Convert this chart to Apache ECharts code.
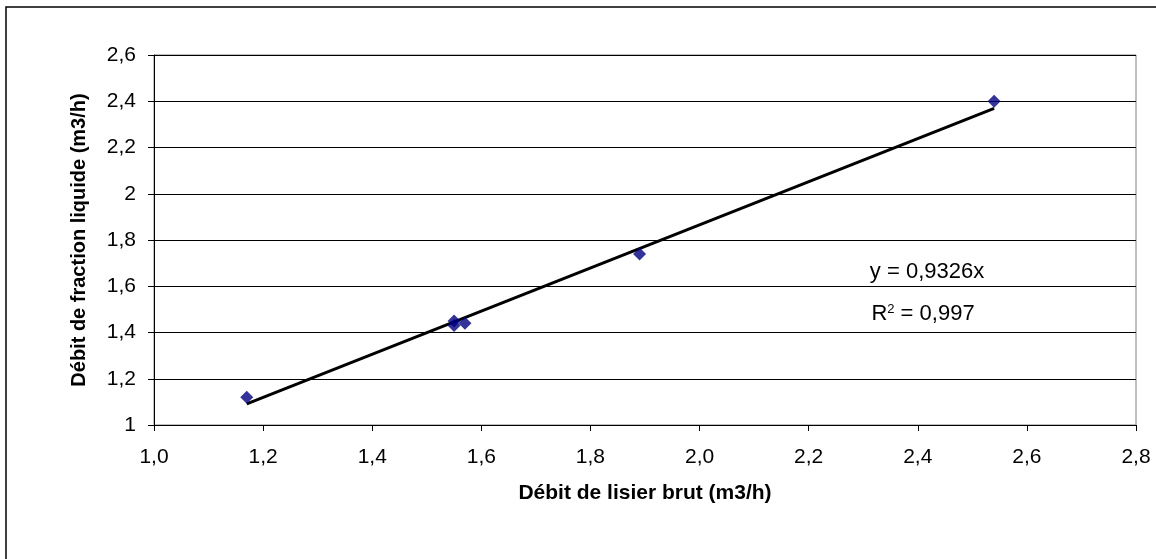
<!DOCTYPE html>
<html>
<head>
<meta charset="utf-8">
<script src="https://cdn.jsdelivr.net/npm/echarts@6/dist/echarts.min.js"></script>
<style>
  html, body { margin: 0; padding: 0; background: #fff; }
  #main { width: 1156px; height: 559px; }
</style>
</head>
<body>
<div id="main"></div>
<script>
// mesures : débit lisier brut (x) / débit fraction liquide (y)
var debitBrut = [1.17, 1.55, 1.55, 1.57, 1.89, 2.54];
var debitLiquide = [1.12, 1.45, 1.43, 1.44, 1.74, 2.40];
var pente = 0.9326;
var r2 = '0,997';

var points = debitBrut.map(function (x, i) { return [x, debitLiquide[i]]; });
var xMin = Math.min.apply(null, debitBrut);
var xMax = Math.max.apply(null, debitBrut);
var tendance = [[xMin, pente * xMin], [xMax, pente * xMax]];

var police = 'Liberation Sans, Arial, sans-serif';

function virgule(v, d) {
  return (d == null ? String(v) : v.toFixed(d)).replace('.', ',');
}

var chart = echarts.init(document.getElementById('main'));
chart.setOption({
  backgroundColor: '#fff',
  animation: false,
  textStyle: { fontFamily: police },
  grid: { left: 154, top: 55, width: 982, height: 370, show: true, borderColor: '#808080', borderWidth: 1 },
  xAxis: {
    type: 'value',
    min: 1.0, max: 2.8, interval: 0.2,
    name: 'Débit de lisier brut (m3/h)',
    nameLocation: 'middle',
    nameGap: 58,
    nameTextStyle: { fontSize: 21, fontWeight: 'bold', color: '#000' },
    axisLine: { show: true, lineStyle: { color: '#000', width: 1 } },
    axisTick: { show: true, length: 6, lineStyle: { color: '#000' } },
    axisLabel: { fontSize: 21, color: '#000', margin: 22, formatter: function (v) { return virgule(v, 1); } },
    splitLine: { show: false }
  },
  yAxis: {
    type: 'value',
    min: 1, max: 2.6, interval: 0.2,
    name: 'Débit de fraction liquide (m3/h)',
    nameLocation: 'middle',
    nameGap: 65,
    nameTextStyle: { fontSize: 20, fontWeight: 'bold', color: '#000' },
    axisLine: { show: true, lineStyle: { color: '#000', width: 1 } },
    axisTick: { show: true, length: 6, lineStyle: { color: '#000' } },
    axisLabel: { fontSize: 21, color: '#000', margin: 18, formatter: function (v) { return virgule(Math.round(v * 10) / 10); } },
    splitLine: { show: true, lineStyle: { color: '#000', width: 1 } }
  },
  graphic: [
    { type: 'rect', shape: { x: 6, y: 7, width: 1160, height: 570 }, style: { fill: 'none', stroke: '#000', lineWidth: 1.5 }, z: 10 },
    { type: 'text', x: 927, y: 272, style: { text: 'y = ' + virgule(pente) + 'x', fontSize: 22, fill: '#000', align: 'center', verticalAlign: 'middle', fontFamily: police } },
    { type: 'text', x: 923, y: 314, style: {
        text: '{a|R}{s|2}{a| = ' + r2 + '}',
        align: 'center', verticalAlign: 'middle',
        rich: {
          a: { fontSize: 22, fill: '#000', fontFamily: police },
          s: { fontSize: 13, fill: '#000', verticalAlign: 'top', padding: [0, 0, 9, 0], fontFamily: police }
        } } }
  ],
  series: [
    {
      type: 'line',
      data: tendance,
      symbol: 'none',
      lineStyle: { color: '#000', width: 3 },
      z: 2
    },
    {
      type: 'scatter',
      data: points,
      symbol: 'diamond',
      symbolSize: [13, 13],
      itemStyle: { color: '#000080' },
      z: 3
    }
  ]
});
</script>
</body>
</html>
